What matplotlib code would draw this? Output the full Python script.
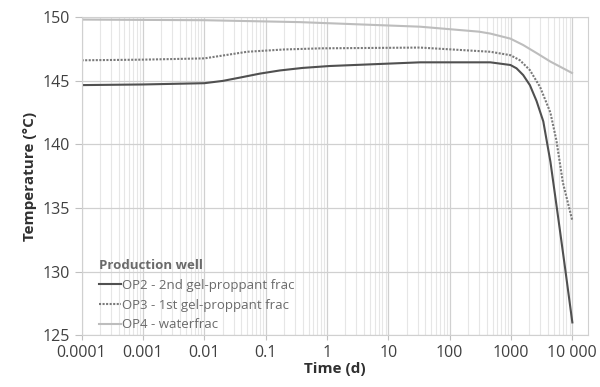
import numpy as np
import matplotlib
matplotlib.use('Agg')
import matplotlib.pyplot as plt
from matplotlib.ticker import LogLocator, NullFormatter

plt.rcParams['font.family'] = ['Open Sans', 'DejaVu Sans']

# time in days, temperature in deg C
t_op2 = [1e-4, 0.001, 0.01, 0.02, 0.04, 0.08, 0.17, 0.4, 1.1, 33, 460, 980, 1230, 1580, 2030,
         2610, 3360, 4400, 5970, 7600, 10000]
T_op2 = [144.65, 144.7, 144.8, 144.98, 145.26, 145.55, 145.8, 146.0, 146.15, 146.44, 146.44, 146.23,
         145.97, 145.44, 144.65, 143.4, 141.8, 138.6, 134.0, 130.3, 126.0]

t_op3 = [1e-4, 0.001, 0.01, 0.05, 0.2, 0.8, 33, 460, 980, 1400, 2030, 2980, 4380, 5500, 7000, 10000]
T_op3 = [146.6, 146.65, 146.75, 147.27, 147.45, 147.54, 147.6, 147.27, 147.0, 146.6, 145.83, 144.5,
         142.5, 140.3, 137.0, 134.0]

t_op4 = [1e-4, 0.01, 0.36, 33, 300, 460, 980, 1580, 2650, 4380, 6300, 9900]
T_op4 = [149.8, 149.75, 149.6, 149.24, 148.85, 148.7, 148.3, 147.8, 147.15, 146.5, 146.1, 145.6]

xticks = [1e-4, 1e-3, 1e-2, 0.1, 1, 10, 100, 1000, 10000]
xlabels = ['0.0001', '0.001', '0.01', '0.1', '1', '10', '100', '1000', '10 000']

fig = plt.figure(figsize=(6, 3.87), dpi=100)
ax = fig.add_axes([0.136, 0.134, 0.844, 0.822])

ax.plot(t_op2, T_op2, color='#505050', lw=1.5, label='OP2 - 2nd gel-proppant frac')
ax.plot(t_op3, T_op3, color='#7a7a7a', lw=1.5, ls=(0, (1, 0.7)), label='OP3 - 1st gel-proppant frac')
ax.plot(t_op4, T_op4, color='#bdbdbd', lw=1.5, label='OP4 - waterfrac')

ax.set_xscale('log')
ax.set_xlim(1e-4, 18000)
ax.set_ylim(125, 150)
ax.set_xticks(xticks)
ax.set_xticklabels(xlabels)
ax.xaxis.set_minor_locator(LogLocator(base=10, subs=np.arange(2, 10), numticks=20))
ax.xaxis.set_minor_formatter(NullFormatter())
ax.set_yticks([125, 130, 135, 140, 145, 150])

ax.grid(True, which='major', color='#d0d0d0', lw=0.9)
ax.grid(True, which='minor', axis='x', color='#e6e6e6', lw=0.8)
ax.set_axisbelow(True)
for s in ax.spines.values():
    s.set_color('#d0d0d0')
ax.tick_params(axis='both', which='both', colors='#c0c0c0', labelcolor='#404040', labelsize=11.5)
ax.tick_params(axis='x', which='minor', length=0)
ax.tick_params(axis='y', length=5)

ax.set_xlabel('Time (d)', fontsize=11, fontweight='bold', color='#303030', labelpad=1)
ax.set_ylabel('Temperature (°C)', fontsize=11, fontweight='bold', color='#303030', labelpad=4)

leg = ax.legend(loc='lower left', bbox_to_anchor=(0.01, -0.025), frameon=False, fontsize=9.5,
                title='Production well', handlelength=1.7, handletextpad=0.1,
                labelspacing=0.5, labelcolor='#6a6a6a')
leg.get_title().set_fontweight('bold')
leg.get_title().set_color('#6a6a6a')
leg.get_title().set_fontsize(9.5)
leg._legend_box.align = 'left'

fig.savefig('out.png', dpi=100)
